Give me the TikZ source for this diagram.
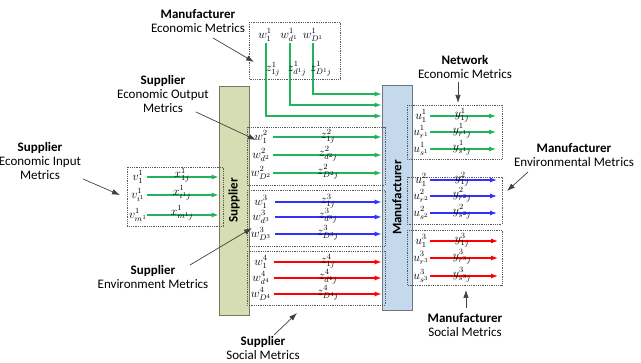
\documentclass[tikz,border=0pt]{standalone}
\usepackage[no-math]{fontspec}
\setmainfont{Carlito}
\usetikzlibrary{arrows.meta}
\definecolor{gA}{RGB}{34,180,90}
\definecolor{bA}{RGB}{50,50,255}
\definecolor{rA}{RGB}{255,0,0}
\definecolor{supfill}{RGB}{214,221,178}
\definecolor{supdraw}{RGB}{120,120,100}
\definecolor{manfill}{RGB}{197,217,236}
\definecolor{mandraw}{RGB}{110,120,130}
\begin{document}
\begin{tikzpicture}[x=1pt,y=-1pt,
  lab/.style={font=\fontsize{13}{14}\selectfont, align=center, inner sep=0pt},
  barlab/.style={font=\fontsize{13}{14}\selectfont\bfseries, inner sep=0pt, rotate=90},
  ml/.style={font=\fontsize{11.5}{12}\selectfont, inner sep=0pt},
  dbox/.style={draw=black!65, line width=0.8pt, dash pattern=on 0.9pt off 0.9pt},
  supbar/.style={draw=supdraw, fill=supfill, line width=0.8pt, minimum width=30, minimum height=229, inner sep=0pt},
  manbar/.style={draw=mandraw, fill=manfill, line width=0.8pt, minimum width=30, minimum height=225, inner sep=0pt},
  arG/.style={line width=1.1pt, draw=gA, -{Latex[length=7pt,width=5pt]}},
  arB/.style={line width=1.1pt, draw=bA, -{Latex[length=7pt,width=5pt]}},
  arR/.style={line width=1.1pt, draw=rA, -{Latex[length=7pt,width=5pt]}},
  ptr/.style={draw=black!75, line width=0.7pt, -{Latex[length=8pt,width=5.5pt]}}
]
\path[use as bounding box] (0,0) rectangle (641,363);

% bars
\node[supbar] (sup) at (234,200.5) {};
\node[manbar] (man) at (397,197.5) {};

% dotted boxes
\draw[dbox] (249,22) rectangle (340,79);
\draw[dbox] (247,127) rectangle (385,185);
\draw[dbox] (247,190) rectangle (385,246);
\draw[dbox] (247,251) rectangle (385,305);
\draw[dbox] (127,167) rectangle (223,226);
\draw[dbox] (407,105) rectangle (502,159);
\draw[dbox] (407,177) rectangle (502,224);
\draw[dbox] (407,230) rectangle (502,285);

% ---------- coloured connectors ----------
\coordinate (ts1) at (266,43);
\coordinate (ts2) at (290,43);
\coordinate (ts3) at (313,43);
\coordinate (te1) at (0,116);
\coordinate (te2) at (0,105);
\coordinate (te3) at (0,94);
\draw[arG] (ts1) |- (te1 -| man.west);
\draw[arG] (ts2) |- (te2 -| man.west);
\draw[arG] (ts3) |- (te3 -| man.west);

\coordinate (a21) at (273,137);
\coordinate (a22) at (273,155);
\coordinate (a23) at (273,173);
\coordinate (a31) at (275,202);
\coordinate (a32) at (275,217);
\coordinate (a33) at (275,234);
\coordinate (a41) at (274,262);
\coordinate (a42) at (274,278);
\coordinate (a43) at (274,294);
\coordinate (av1) at (147,177);
\coordinate (av2) at (147,195);
\coordinate (av3) at (147,215);
\draw[arG] (a21) -- (a21 -| man.west);
\draw[arG] (a22) -- (a22 -| man.west);
\draw[arG] (a23) -- (a23 -| man.west);
\draw[arB] (a31) -- (a31 -| man.west);
\draw[arB] (a32) -- (a32 -| man.west);
\draw[arB] (a33) -- (a33 -| man.west);
\draw[arR] (a41) -- (a41 -| man.west);
\draw[arR] (a42) -- (a42 -| man.west);
\draw[arR] (a43) -- (a43 -| man.west);
\draw[arG] (av1) -- (av1 -| sup.west);
\draw[arG] (av2) -- (av2 -| sup.west);
\draw[arG] (av3) -- (av3 -| sup.west);

\coordinate (b11) at (430,116); \coordinate (c11) at (496,116);
\coordinate (b12) at (430,132); \coordinate (c12) at (496,132);
\coordinate (b13) at (430,149); \coordinate (c13) at (496,149);
\coordinate (b21) at (430,180); \coordinate (c21) at (497,180);
\coordinate (b22) at (430,196); \coordinate (c22) at (497,196);
\coordinate (b23) at (430,213); \coordinate (c23) at (497,213);
\coordinate (b31) at (430,241); \coordinate (c31) at (498,241);
\coordinate (b32) at (430,258); \coordinate (c32) at (498,258);
\coordinate (b33) at (430,276); \coordinate (c33) at (498,276);
\draw[arG] (b11) -- (c11);
\draw[arG] (b12) -- (c12);
\draw[arG] (b13) -- (c13);
\draw[arB] (b21) -- (c21);
\draw[arB] (b22) -- (c22);
\draw[arB] (b23) -- (c23);
\draw[arR] (b31) -- (c31);
\draw[arR] (b32) -- (c32);
\draw[arR] (b33) -- (c33);

% pointers
\coordinate (p1s) at (213,38); \coordinate (p1e) at (254,62);
\coordinate (p2s) at (196,112); \coordinate (p2e) at (256,140);
\coordinate (p3s) at (83,179); \coordinate (p3e) at (120,195);
\coordinate (p4s) at (190,265); \coordinate (p4e) at (252,228);
\coordinate (p5s) at (274,335); \coordinate (p5e) at (297,313);
\coordinate (p6s) at (458,82); \coordinate (p6e) at (458,103);
\coordinate (p7s) at (528,172); \coordinate (p7e) at (507,191);
\coordinate (p8s) at (466,308); \coordinate (p8e) at (466,290);
\foreach \k in {1,...,8}{ \draw[ptr] (p\k s) -- (p\k e); }

% ---------- texts ----------
\node[barlab] (suplab) at (sup.center) {Supplier};
\node[barlab] (manlab) at (man.center) {Manufacturer};

\node[ml] (t1) at (265,35) {$w^1_1$};
\node[ml] (t2) at (289,35) {$w^1_{d^1}$};
\node[ml] (t3) at (313,35) {$w^1_{D^1}$};
\node[ml] (tz1) at (273,69) {$z^1_{1j}$};
\node[ml] (tz2) at (297,69) {$z^1_{d^1j}$};
\node[ml] (tz3) at (321,69) {$z^1_{D^1j}$};

\foreach \i/\yy/\wl/\zl in {1/137/{w^2_1}/{z^2_{1j}}, 2/155/{w^2_{d^2}}/{z^2_{d^2j}}, 3/173/{w^2_{D^2}}/{z^2_{D^2j}}}{
  \node[ml] (w2\i) at (261,\yy) {$\wl$};
  \node[ml] (z2\i) at (328,\yy-1) {$\zl$};
}
\foreach \i/\yy/\wl/\zl in {1/202/{w^3_1}/{z^3_{1j}}, 2/217/{w^3_{d^3}}/{z^3_{d^3j}}, 3/234/{w^3_{D^3}}/{z^3_{D^3j}}}{
  \node[ml] (w3\i) at (261,\yy) {$\wl$};
  \node[ml] (z3\i) at (328,\yy-1) {$\zl$};
}
\foreach \i/\yy/\wl/\zl in {1/262/{w^4_1}/{z^4_{1j}}, 2/278/{w^4_{d^4}}/{z^4_{d^4j}}, 3/294/{w^4_{D^4}}/{z^4_{D^4j}}}{
  \node[ml] (w4\i) at (261,\yy) {$\wl$};
  \node[ml] (z4\i) at (328,\yy-1) {$\zl$};
}
\foreach \i/\yy/\vl/\xl in {1/177/{v^1_1}/{x^1_{1j}}, 2/195/{v^1_{i^1}}/{x^1_{i^1j}}, 3/215/{v^1_{m^1}}/{x^1_{m^1j}}}{
  \node[ml] (v\i) at (138,\yy) {$\vl$};
  \node[ml] (x\i) at (182,\yy-2) {$\xl$};
}
\foreach \i/\yy/\ul/\yl in {1/116/{u^1_1}/{y^1_{1j}}, 2/132/{u^1_{r^1}}/{y^1_{r^1j}}, 3/149/{u^1_{s^1}}/{y^1_{s^1j}}}{
  \node[ml] (u1\i) at (421,\yy) {$\ul$};
  \node[ml] (y1\i) at (462,\yy-1) {$\yl$};
}
\foreach \i/\yy/\ul/\yl in {1/180/{u^2_1}/{y^2_{1j}}, 2/196/{u^2_{r^2}}/{y^2_{r^2j}}, 3/213/{u^2_{s^2}}/{y^2_{s^2j}}}{
  \node[ml] (u2\i) at (421,\yy) {$\ul$};
  \node[ml] (y2\i) at (462,\yy-1) {$\yl$};
}
\foreach \i/\yy/\ul/\yl in {1/241/{u^3_1}/{y^3_{1j}}, 2/258/{u^3_{r^3}}/{y^3_{r^3j}}, 3/276/{u^3_{s^3}}/{y^3_{s^3j}}}{
  \node[ml] (u3\i) at (421,\yy) {$\ul$};
  \node[ml] (y3\i) at (462,\yy-1) {$\yl$};
}

\node[lab] (L1) at (198,21) {\textbf{Manufacturer}\\Economic Metrics};
\node[lab] (L2) at (163,94) {\textbf{Supplier}\\Economic Output\\Metrics};
\node[lab] (L3) at (40,161) {\textbf{Supplier}\\Economic Input\\Metrics};
\node[lab] (L4) at (153,277) {\textbf{Supplier}\\Environment Metrics};
\node[lab] (L5) at (263,348) {\textbf{Supplier}\\Social Metrics};
\node[lab] (L6) at (465,67) {\textbf{Network}\\Economic Metrics};
\node[lab] (L7) at (574,155) {\textbf{Manufacturer}\\Environmental Metrics};
\node[lab] (L8) at (465,325) {\textbf{Manufacturer}\\Social Metrics};
\end{tikzpicture}
\end{document}
